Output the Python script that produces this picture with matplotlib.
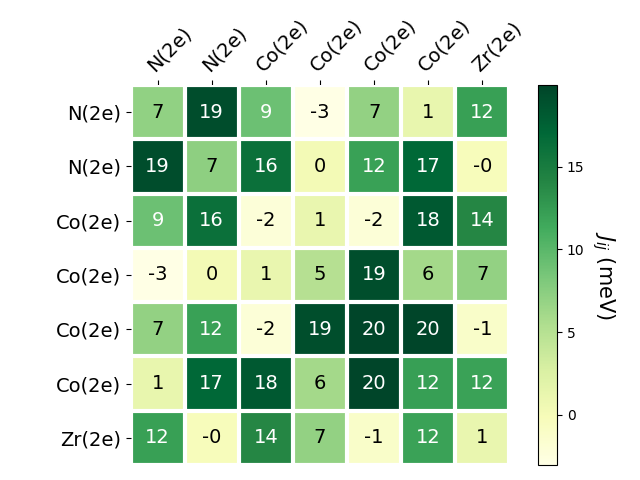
import numpy as np
import matplotlib
matplotlib.use("Agg")
import matplotlib.pyplot as plt

labels = ["N(2e)", "N(2e)", "Co(2e)", "Co(2e)", "Co(2e)", "Co(2e)", "Zr(2e)"]

# exchange couplings J_ij in meV
jij = np.array([
    [7.1, 19.2, 9.0, -3.05, 7.0, 1.2, 12.1],
    [19.2, 7.2, 16.1, 0.2, 12.0, 17.0, -0.3],
    [9.0, 16.1, -2.2, 1.1, -2.1, 18.2, 14.0],
    [-3.05, 0.2, 1.1, 5.0, 19.1, 6.1, 7.0],
    [7.0, 12.0, -2.1, 19.1, 19.95, 19.9, -1.2],
    [1.2, 17.0, 18.2, 6.1, 19.9, 12.2, 11.9],
    [12.1, -0.3, 14.0, 7.0, -1.2, 11.9, 1.1],
])

fig = plt.figure(figsize=(6.4, 4.8), dpi=100)
ax = fig.add_axes([130.5 / 640, 15 / 480, 379 / 640, 380 / 480])
cax = fig.add_axes([538 / 640, 15 / 480, 19 / 640, 380 / 480])

im = ax.imshow(jij, cmap="YlGn", aspect="auto")
cbar = fig.colorbar(im, cax=cax)
cbar.set_label("$J_{ij}$ (meV)", rotation=-90, va="bottom", fontsize=15)

n = len(labels)
ax.set_xticks(np.arange(n))
ax.set_yticks(np.arange(n))
ax.set_xticklabels(labels, fontsize=14)
ax.set_yticklabels(labels, fontsize=14)
ax.tick_params(top=True, bottom=False, labeltop=True, labelbottom=False)
plt.setp(ax.get_xticklabels(), rotation=45, ha="left", rotation_mode="anchor")

for s in ax.spines.values():
    s.set_visible(False)
ax.set_xticks(np.arange(n + 1) - .5, minor=True)
ax.set_yticks(np.arange(n + 1) - .5, minor=True)
ax.grid(which="minor", color="w", linestyle="-", linewidth=3)
ax.tick_params(which="minor", bottom=False, left=False, top=False)

thresh = im.norm(jij.max()) / 2.
for i in range(n):
    for j in range(n):
        c = "white" if im.norm(jij[i, j]) > thresh else "black"
        ax.text(j, i, "%.0f" % jij[i, j], ha="center", va="center",
                color=c, fontsize=14)

fig.savefig("out.png")
